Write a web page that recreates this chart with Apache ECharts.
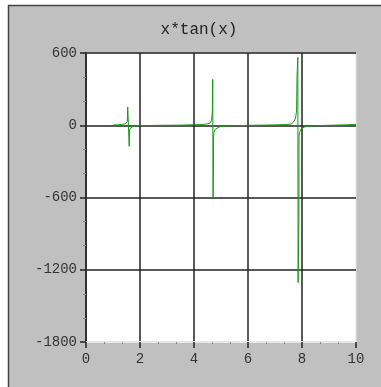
<!DOCTYPE html>
<html>
<head>
<meta charset="utf-8">
<style>
html,body{margin:0;padding:0;background:#fff;}
#c{width:381px;height:387px;}
</style>
<script src="https://cdn.jsdelivr.net/npm/echarts@6/dist/echarts.min.js"></script>
</head>
<body>
<div id="c"></div>
<script>
var titleText = 'x*tan(x)';
var xTicks = [0, 2, 4, 6, 8, 10];
var yTicks = [600, 0, -600, -1200, -1800];
var xs = [1.0, 1.2, 1.35, 1.45, 1.5, 1.53, 1.545, 1.60, 1.62, 1.66, 1.75, 1.9, 2.2, 2.6, 3.0, 3.5, 4.0, 4.3, 4.5, 4.6, 4.65, 4.68, 4.695, 4.705, 4.72, 4.725, 4.74, 4.78, 4.85, 4.95, 5.2, 5.6, 6.0, 6.5, 7.0, 7.4, 7.6, 7.7, 7.76, 7.8, 7.815, 7.845, 7.855, 7.885, 7.89, 7.91, 7.95, 8.02, 8.1, 8.2, 8.4, 8.8, 9.2, 9.6, 9.85, 10.0];
var ys = [2, 4, 8, 12, 18, 30, 152, -175, -30, -15, -8, -5, -3, -1, 0, 1, 4, 6, 12, 20, 40, 117, 381, -608, -389, -100, -60, -35, -20, -12, -6, -3, -1, 1, 3, 6, 10, 30, 60, 120, 397, 564, -1306, -806, -90, -60, -40, -22, -14, -9, -5, -2, 1, 3, 6, 7];

var chart = echarts.init(document.getElementById('c'));
var data = xs.map(function (x, i) { return [x, ys[i]]; });
var mono = 'Liberation Mono';

chart.setOption({
  animation: false,
  backgroundColor: '#ffffff',
  graphic: [
    { type: 'rect', z: -10, shape: { x: 8, y: 5, width: 373, height: 382 }, style: { fill: '#c0c0c0' } },
    { type: 'line', z: -9, shape: { x1: 8, y1: 5.5, x2: 381, y2: 5.5 }, style: { stroke: '#444', lineWidth: 1.5 } },
    { type: 'line', z: -9, shape: { x1: 8.5, y1: 5, x2: 8.5, y2: 387 }, style: { stroke: '#444', lineWidth: 1.5 } }
  ],
  title: {
    text: titleText,
    left: 194, textAlign: 'center',
    top: 17,
    textStyle: { fontFamily: mono, fontSize: 16, fontWeight: 'normal', color: '#222' }
  },
  grid: {
    left: 86, right: 25, top: 53, bottom: 45,
    show: true, backgroundColor: '#ffffff', borderColor: '#e4e4e4', borderWidth: 1
  },
  xAxis: {
    type: 'value', min: 0, max: 10, interval: 2,
    axisLine: { show: true, onZero: false, lineStyle: { color: '#e8e8e8', width: 2 } },
    axisTick: { show: true, length: 6, lineStyle: { color: '#222', width: 1.5 } },
    minorTick: { show: true, splitNumber: 3, length: 2, lineStyle: { color: '#888' } },
    axisLabel: { fontFamily: mono, fontSize: 14, color: '#333', margin: 10,
      formatter: function (v) { return xTicks.indexOf(v) >= 0 ? String(v) : ''; } },
    splitLine: { show: true, showMinLine: false, showMaxLine: false, lineStyle: { color: '#222', width: 1.5 } }
  },
  yAxis: {
    type: 'value', min: -1800, max: 600, interval: 600,
    axisLine: { show: true, onZero: false, lineStyle: { color: '#333', width: 2 } },
    axisTick: { show: true, length: 6, lineStyle: { color: '#222', width: 1.5 } },
    minorTick: { show: true, splitNumber: 3, length: 3, lineStyle: { color: '#888' } },
    axisLabel: { fontFamily: mono, fontSize: 14, color: '#333', margin: 9,
      formatter: function (v) { return yTicks.indexOf(v) >= 0 ? String(v) : ''; } },
    splitLine: { show: true, showMinLine: false, showMaxLine: true, lineStyle: { color: '#222', width: 1.5 } }
  },
  series: [{
    type: 'line',
    data: data,
    showSymbol: false,
    symbol: 'none',
    lineStyle: { color: '#129a12', width: 1 },
    z: 5
  }]
});
</script>
</body>
</html>
